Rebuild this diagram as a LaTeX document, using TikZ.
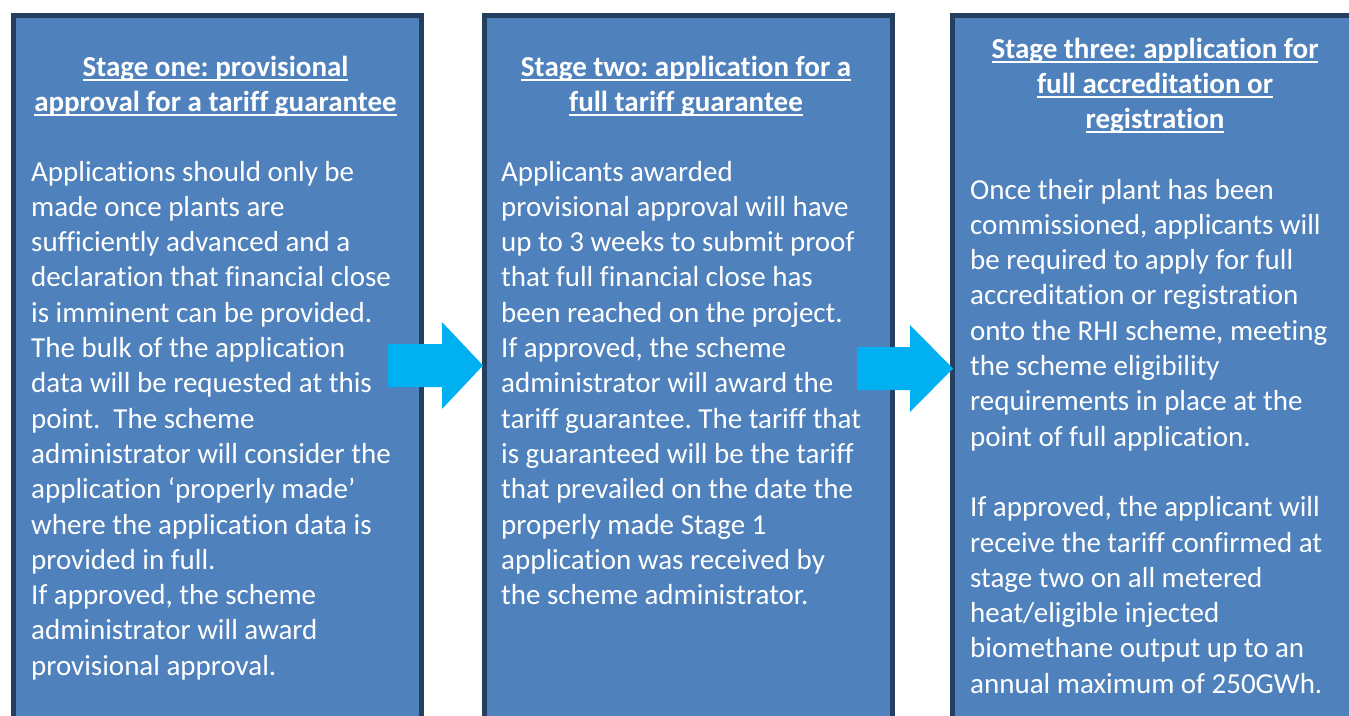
\documentclass[tikz,border=0pt]{standalone}
\usepackage{fontspec}
\setmainfont{Carlito}[Ligatures=NoCommon]
\definecolor{boxfill}{HTML}{4F81BD}
\definecolor{boxline}{HTML}{243F60}
\definecolor{arrowcol}{HTML}{00B0F0}
\newlength\tw
\setlength\tw{400pt}
\newcommand\cl[1]{\hbox to \tw{\hfil#1\hfil}}
\newcommand\ulx[1]{{\setbox0=\hbox{#1}\rlap{\rule[-4.6pt]{\wd0}{1.9pt}}\box0}}
\newcommand\lnx[1]{\hbox{#1}}
\tikzset{
  stagebox/.style={draw=boxline, fill=boxfill, line width=4.5pt, minimum width=408pt, minimum height=760pt, anchor=north west, inner sep=0pt},
  titletext/.style={anchor=base, inner sep=0pt, text=white, font=\fontsize{29pt}{35.3pt}\selectfont\frenchspacing\bfseries},
  bodytext/.style={anchor=base west, inner sep=0pt, text=white, font=\fontsize{29pt}{35.3pt}\selectfont\frenchspacing},
  blockarrow/.style={fill=arrowcol}
}
\begin{document}
\begin{tikzpicture}[x=1pt,y=-1pt]
\useasboundingbox (0,0) rectangle (1349,715);
\clip (0,0) rectangle (1349,715);
\node[stagebox] (b1) at (11.25,13.25) {};
\node[stagebox] (b2) at (482.25,13.25) {};
\node[stagebox] (b3) at (950.25,13.25) {};

\fill[blockarrow] (388,344) -- (442,344) -- (442,322) -- (483,365.5) -- (442,409) -- (442,387) -- (388,387) -- cycle;
\fill[blockarrow] (857,347) -- (910,347) -- (910,325) -- (953,368.5) -- (910,412) -- (910,390) -- (857,390) -- cycle;

\node[titletext] (t1) at (215.5,76) {\vtop{\cl{\ulx{Stage one: provisional}}\cl{\ulx{approval for a tariff guarantee}}}};
\node[titletext] (t2) at (686,76) {\vtop{\cl{\ulx{Stage two: application for a}}\cl{\ulx{full tariff guarantee}}}};
\node[titletext] (t3) at (1155,58) {\vtop{\cl{\ulx{Stage three: application for}}\cl{\ulx{full accreditation or}}\cl{\ulx{registration}}}};

\node[bodytext] (p1) at (31,181) {\vtop{%
\lnx{Applications should only be}
\lnx{made once plants are}
\lnx{sufficiently advanced and a}
\lnx{declaration that financial close}
\lnx{is imminent can be provided.}
\lnx{The bulk of the application}
\lnx{data will be requested at this}
\lnx{point.\ \ The scheme}
\lnx{administrator will consider the}
\lnx{application ‘properly made’}
\lnx{where the application data is}
\lnx{provided in full.}
\lnx{If approved, the scheme}
\lnx{administrator will award}
\lnx{provisional approval.}}};

\node[bodytext] (p2) at (501,181) {\vtop{%
\lnx{Applicants awarded}
\lnx{provisional approval will have}
\lnx{up to 3 weeks to submit proof}
\lnx{that full financial close has}
\lnx{been reached on the project.}
\lnx{If approved, the scheme}
\lnx{administrator will award the}
\lnx{tariff guarantee. The tariff that}
\lnx{is guaranteed will be the tariff}
\lnx{that prevailed on the date the}
\lnx{properly made Stage 1}
\lnx{application was received by}
\lnx{the scheme administrator.}}};

\node[bodytext] (p3) at (970,199) {\vtop{%
\lnx{Once their plant has been}
\lnx{commissioned, applicants will}
\lnx{be required to apply for full}
\lnx{accreditation or registration}
\lnx{onto the RHI scheme, meeting}
\lnx{the scheme eligibility}
\lnx{requirements in place at the}
\lnx{point of full application.}
\lnx{}
\lnx{If approved, the applicant will}
\lnx{receive the tariff confirmed at}
\lnx{stage two on all metered}
\lnx{heat/eligible injected}
\lnx{biomethane output up to an}
\lnx{annual maximum of 250GWh.}}};
\end{tikzpicture}
\end{document}
